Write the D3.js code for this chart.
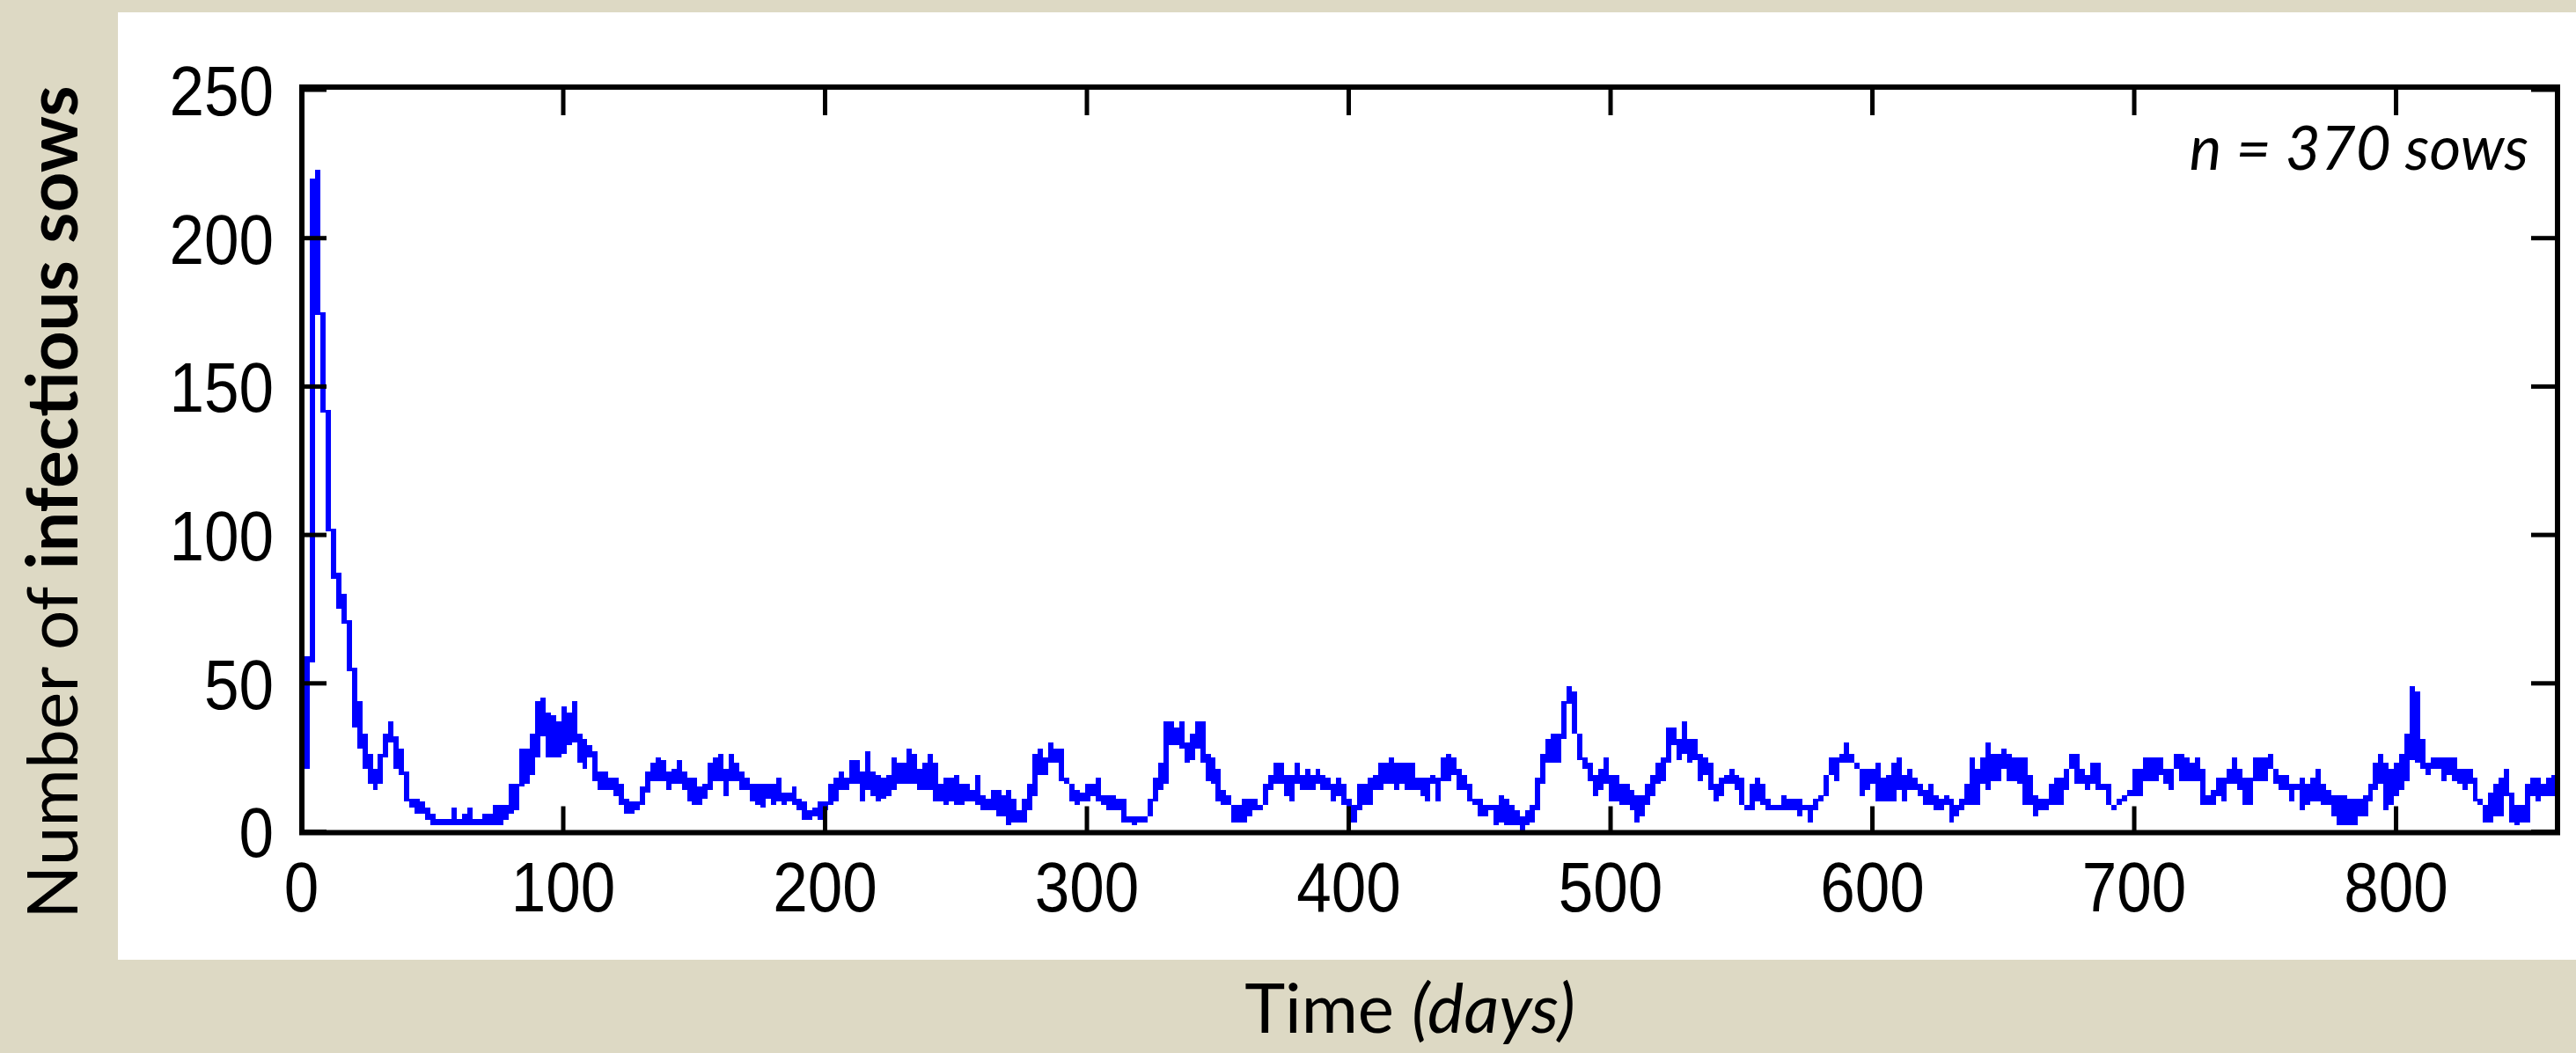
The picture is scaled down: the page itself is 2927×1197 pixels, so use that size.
<!DOCTYPE html>
<html>
<head>
<meta charset="utf-8">
<script src="https://cdn.jsdelivr.net/npm/d3@7"></script>
<style>
  body { margin: 0; background: #ddd9c4; }
  svg { display: block; }
  .tick text { font-family: 'Liberation Sans', sans-serif; font-size: 80px; fill: #000; }
  .tick line { stroke: #000; stroke-width: 5; }
  .title { font-family: Lato, 'Open Sans', sans-serif; fill: #000; }
</style>
</head>
<body>
<div id="chart"></div>
<script>
// one sample per 2-day column of the original plot: lowest and highest count in that column
var firstDay = 0.4;
var dayStep = 2;

var infectiousLow = [
  21,22,58,175,142,102,86,76,71,55, 36,29,22,17,15,17,26,31,22,20,
  11,9,7,7,5,3,3,3,3,3, 3,3,3,3,3,3,3,3,3,5,
  7,8,16,17,20,26,33,26,26,26, 27,30,31,24,22,26,18,15,15,15,
  13,10,7,7,8,10,14,18,18,18, 15,17,17,15,11,10,10,12,15,18,
  18,13,18,18,15,15,11,10,9,12, 10,11,10,11,10,8,5,5,6,5,
  8,10,11,15,15,17,17,11,15,13, 11,12,13,15,17,17,17,17,15,15,
  15,11,11,10,11,10,10,11,11,10, 8,8,8,6,6,3,4,4,4,8,
  13,20,20,24,24,18,17,11,10,11, 11,13,11,10,8,8,8,4,4,3,
  4,4,6,11,15,17,30,30,29,24, 25,29,24,18,17,11,10,10,4,4,
  4,6,8,8,10,15,17,17,13,11, 17,15,15,15,17,15,15,11,13,10,
  4,4,8,10,10,15,15,17,17,15, 17,15,15,15,13,11,17,11,18,18,
  20,15,15,11,10,6,6,8,3,4, 3,3,3,1,3,4,8,17,24,24,
  24,32,44,34,25,22,18,13,15,17, 11,11,10,10,8,4,6,10,13,17,
  18,24,30,25,27,24,25,18,20,15, 11,13,17,17,15,10,8,8,11,10,
  8,8,8,8,8,8,6,8,4,8, 11,13,20,18,24,24,24,22,13,15,
  17,11,11,11,11,15,11,15,15,13, 10,10,8,8,10,4,6,8,10,10,
  10,17,15,18,18,22,18,18,17,10, 10,6,8,8,10,10,10,15,22,17,
  17,15,17,15,15,10,8,10,11,13, 13,13,18,18,18,20,17,15,22,18,
  18,18,18,10,10,10,13,11,17,17, 15,10,10,18,18,18,22,17,15,15,
  11,15,8,10,11,11,10,10,6,3, 3,3,3,6,6,11,15,17,8,10,
  13,15,18,25,24,22,20,22,22,18, 20,18,17,15,17,11,10,4,4,6,
  6,13,4,3,4,4,13,11,13,13, 13
];

var infectiousHigh = [
  21,58,219,222,174,141,101,86,79,70, 54,43,32,25,20,25,32,36,31,27,
  19,10,10,9,7,5,3,3,3,7, 3,5,7,3,3,5,5,8,8,8,
  15,15,27,27,32,43,44,39,38,36, 41,39,43,32,30,28,26,19,19,17,
  17,15,10,9,9,14,19,22,24,23, 19,20,23,19,17,17,14,15,22,24,
  25,20,25,22,19,17,15,15,15,15, 15,17,12,12,14,10,9,6,7,9,
  9,15,17,19,17,23,23,19,26,19, 18,17,18,24,22,22,27,25,20,22,
  25,22,15,17,17,18,15,15,13,18, 11,10,13,13,11,13,10,6,10,15,
  25,27,24,29,27,27,17,15,13,12, 15,15,17,11,11,11,10,10,4,4,
  4,4,10,17,22,36,36,34,36,29, 32,36,36,25,24,20,13,11,8,8,
  10,10,10,8,15,18,22,22,18,18, 22,18,20,18,20,18,17,15,17,15,
  10,8,15,15,17,18,22,22,24,22, 22,22,22,17,17,17,18,17,24,25,
  24,20,18,15,10,10,8,8,8,11, 10,8,6,4,6,8,17,25,30,32,
  32,43,48,46,32,24,22,18,20,24, 18,18,15,15,13,11,11,15,18,22,
  24,34,34,30,36,30,30,25,24,22, 15,17,18,20,18,17,8,15,17,15,
  10,8,8,11,10,10,10,8,8,10, 11,18,24,24,25,29,25,22,20,20,
  20,22,17,18,22,24,18,20,17,15, 13,15,11,10,11,10,8,10,15,24,
  20,24,29,25,25,27,25,24,24,24, 18,11,10,10,15,17,17,20,25,25,
  20,18,22,22,15,15,8,10,11,13, 20,20,24,24,24,24,20,20,25,25,
  24,22,24,20,11,13,17,17,20,24, 20,17,17,24,24,24,25,20,18,18,
  15,15,17,15,17,20,15,13,11,11, 11,10,10,10,11,15,22,25,22,20,
  22,25,32,48,46,30,22,24,24,24, 24,24,20,20,20,17,10,8,12,15,
  17,20,12,8,8,15,17,17,15,17, 18
];

var xTicks = [0, 100, 200, 300, 400, 500, 600, 700, 800];
var yTicks = [0, 50, 100, 150, 200, 250];
var xMax = 862;
var yMax = 250;

var width = 2927, height = 1197;

var svg = d3.select('#chart')
    .append('svg')
    .attr('width', width)
    .attr('height', height);

// white panel
svg.append('rect')
    .attr('x', 134).attr('y', 14)
    .attr('width', width - 134).attr('height', 1077)
    .attr('fill', '#fff');

var plot = { left: 343, right: 2906, top: 99, bottom: 946.5 };

var xScale = d3.scaleLinear().domain([0, xMax]).range([342, 2906.5]);
var yScale = d3.scaleLinear().domain([0, yMax]).range([945, 101.5]);

var cols = infectiousLow.map((lo, i) => ({ day: firstDay + i * dayStep, lo: lo, hi: infectiousHigh[i] }));

svg.append('g')
    .selectAll('rect')
    .data(cols)
    .enter()
    .append('rect')
    .attr('x', d => xScale(d.day - dayStep / 2))
    .attr('width', d => xScale(d.day + dayStep / 2) - xScale(d.day - dayStep / 2))
    .attr('y', d => yScale(d.hi) - 3.4)
    .attr('height', d => yScale(d.lo) - yScale(d.hi) + 6.8)
    .attr('fill', '#0000ff')
    .attr('shape-rendering', 'crispEdges');

// inward ticks on all four sides
var fitDigits = sel => sel.selectAll('text')
    .attr('textLength', function () { return this.textContent.length * 39.5; })
    .attr('lengthAdjust', 'spacingAndGlyphs');

svg.append('g')
    .attr('transform', `translate(0,${plot.bottom})`)
    .call(d3.axisBottom(xScale).tickValues(xTicks).tickSize(-30).tickPadding(33))
    .call(fitDigits)
    .call(g => g.select('.domain').remove());

svg.append('g')
    .attr('transform', `translate(0,${plot.top})`)
    .call(d3.axisTop(xScale).tickValues(xTicks).tickSize(-32).tickFormat(''))
    .call(g => g.select('.domain').remove());

svg.append('g')
    .attr('transform', `translate(${plot.left},0)`)
    .call(d3.axisLeft(yScale).tickValues(yTicks).tickSize(-28).tickPadding(32))
    .call(fitDigits)
    .call(g => g.selectAll('text').attr('dy', '0.36em'))
    .call(g => g.select('.domain').remove());

svg.append('g')
    .attr('transform', `translate(${plot.right},0)`)
    .call(d3.axisRight(yScale).tickValues(yTicks).tickSize(-30).tickFormat(''))
    .call(g => g.select('.domain').remove());

svg.append('rect')
    .attr('x', plot.left).attr('y', plot.top)
    .attr('width', plot.right - plot.left)
    .attr('height', plot.bottom - plot.top)
    .attr('fill', 'none')
    .attr('stroke', '#000')
    .attr('stroke-width', 6);

svg.append('text')
    .attr('class', 'title')
    .attr('x', 2873).attr('y', 193)
    .attr('text-anchor', 'end')
    .style('font-size', '69px')
    .style('font-style', 'italic')
    .text('n = 370 sows');

var xTitle = svg.append('text')
    .attr('class', 'title')
    .attr('x', 1602).attr('y', 1174)
    .attr('text-anchor', 'middle')
    .style('font-size', '78px');
xTitle.append('tspan').text('Time ');
xTitle.append('tspan').style('font-style', 'italic').text('(days)');

var yTitle = svg.append('text')
    .attr('class', 'title')
    .attr('transform', 'translate(88,571)rotate(-90)')
    .attr('text-anchor', 'middle')
    .style('font-size', '80px');
yTitle.append('tspan').text('Number of ');
yTitle.append('tspan').style('font-weight', 'bold').text('infectious sows');
</script>
</body>
</html>
